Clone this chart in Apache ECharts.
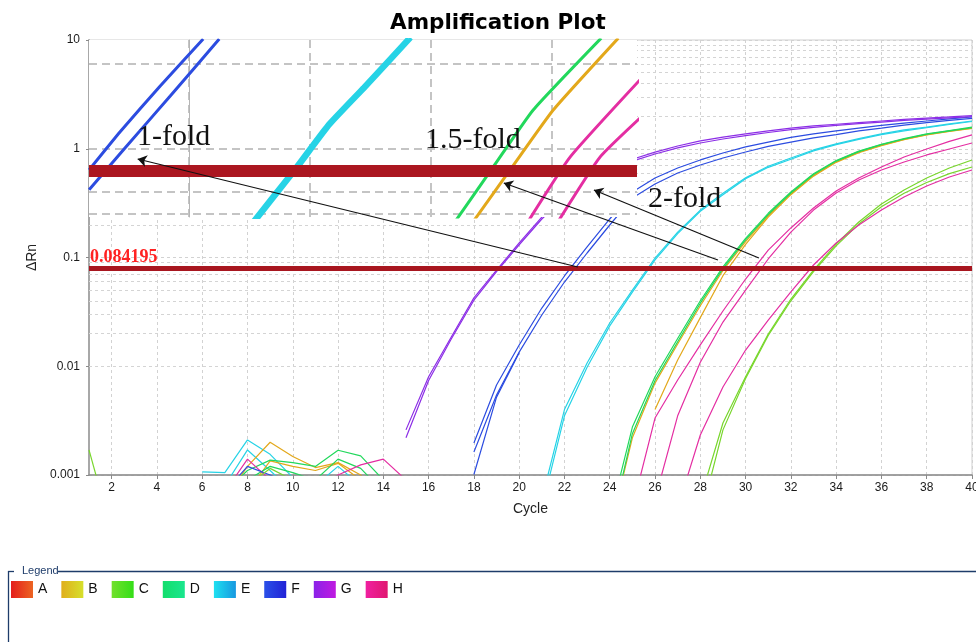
<!DOCTYPE html>
<html><head><meta charset="utf-8">
<script src="https://cdn.jsdelivr.net/npm/echarts@6/dist/echarts.min.js"></script>
<style>html,body{margin:0;padding:0;background:#fff}#c{width:976px;height:642px}</style>
</head><body><div id="c"></div>
<script>
// ---------- axes / reference values ----------
const xTicks = [2,4,6,8,10,12,14,16,18,20,22,24,26,28,30,32,34,36,38,40];
const yTickLabels = ['0.001','0.01','0.1','1','10'];
const yMinorGrid = [0.002,0.003,0.004,0.005,0.006,0.007,0.008,0.009,0.02,0.03,0.04,0.05,0.06,0.07,0.08,0.09,0.2,0.3,0.4,0.5,0.6,0.7,0.8,0.9,2,3,4,5,6,7,8,9];
const threshold = 0.084195;
const legendNames = ['A','B','C','D','E','F','G','H'];

// ---------- amplification curves (ΔRn per cycle, from start cycle) ----------
const C0 = [0.0017, 0.0003];                                   // start 1
const C1 = [0.0006,0.00301,0.0080,0.0198,0.0415,0.0767,0.133,0.212,0.310,0.418,0.538,0.665,0.789]; // start 28
const C2 = [0.0004,0.0026,0.0077,0.0192,0.040,0.074,0.128,0.203,0.293,0.39,0.49,0.59,0.68];        // start 28
const B1 = [0.0003,0.0022,0.0070,0.0160,0.036,0.076,0.140,0.242,0.385,0.570,0.760,0.930,1.08,1.22,1.35,1.45,1.55]; // start 24
const B2 = [0.0040,0.0114,0.028,0.068,0.132,0.235,0.378,0.560,0.750,0.920,1.07,1.21,1.34,1.44,1.54]; // start 26
const D1 = [0.0004,0.00276,0.0080,0.0180,0.040,0.082,0.150,0.255,0.400,0.590,0.780,0.950,1.10,1.24,1.37,1.47,1.58]; // start 24
const D2 = [0.0003,0.0024,0.0074,0.0168,0.038,0.079,0.145,0.248,0.392,0.580,0.770,0.940,1.09,1.23,1.36,1.46,1.56]; // start 24
const E1 = [0.0006,0.0040,0.0107,0.0250,0.0502,0.0989,0.171,0.273,0.39,0.54,0.69,0.822,0.975,1.11,1.24,1.37,1.49,1.58,1.69,1.80]; // start 21
const E2 = [0.0005,0.0035,0.0098,0.0235,0.048,0.095,0.166,0.266,0.378,0.53,0.675,0.80,0.955,1.09,1.22,1.35,1.46,1.56,1.67,1.78]; // start 21
const F1 = [0.00197,0.00673,0.0157,0.0343,0.0676,0.125,0.226,0.400,0.538,0.665,0.789,0.914,1.04,1.15,1.27,1.37,1.46,1.55,1.64,1.72,1.80,1.88,1.96]; // start 18
const F2 = [0.00163,0.00544,0.0135,0.0296,0.0595,0.110,0.199,0.352,0.474,0.598,0.709,0.822,0.933,1.05,1.15,1.26,1.35,1.46,1.55,1.65,1.74,1.82,1.90]; // start 18
const F3 = [0.00101,0.0052,0.0133]; // start 18
const G1 = [0.0026,0.0080,0.0186,0.0425,0.0767,0.136,0.235,0.37,0.52,0.66,0.80,0.93,1.06,1.18,1.28,1.37,1.46,1.55,1.62,1.68,1.74,1.80,1.86,1.91,1.96,2.02]; // start 15
const G2 = [0.0022,0.0074,0.0178,0.0405,0.074,0.131,0.226,0.355,0.50,0.635,0.77,0.895,1.02,1.13,1.23,1.32,1.41,1.50,1.57,1.64,1.70,1.76,1.82,1.87,1.92,1.97]; // start 15
const H1 = [0.0005,0.00334,0.00748,0.0157,0.0322,0.0634,0.117,0.187,0.285,0.409,0.538,0.679,0.840,0.995,1.17,1.34]; // start 25
const H2 = [0.0006,0.0035,0.0109,0.0255,0.0502,0.0969,0.171,0.273,0.392,0.516,0.638,0.755,0.877,0.995,1.13]; // start 26
const H3 = [0.0005,0.00233,0.00644,0.0141,0.0266,0.0482,0.0853,0.136,0.199,0.273,0.360,0.454,0.550,0.638]; // start 27

// ---------- baseline noise ----------
const nE1 = [0.00107,0.00105,0.0021,0.00155,0.00095]; // start 6
const nE2 = [0.0008,0.0017,0.0011,0.0007];             // start 7
const nE3 = [0.0008,0.0012,0.0008];                    // start 11
const nB1 = [0.0006,0.0012,0.0020,0.00148,0.00117,0.0013,0.0010,0.0006]; // start 7
const nB2 = [0.0007,0.00135,0.0012,0.0011,0.00128,0.0009];               // start 8
const nD1 = [0.0007,0.0011,0.00137,0.0013,0.0012,0.00169,0.0015,0.0009]; // start 7
const nD2 = [0.0006,0.0009,0.0012,0.00105,0.0009,0.0014,0.00115,0.0007]; // start 7
const nH1 = [0.0007,0.0014,0.0009];                    // start 7
const nH2 = [0.0007,0.0010,0.00124,0.0014,0.0009];     // start 11
const nF1 = [0.0007,0.0012,0.0010,0.0008];             // start 7
const nC1 = [0.0008,0.00115,0.0009];                   // start 8

// ---------- magnified inset (inset units: x, ΔRn) ----------
const insetXGrid = [0,1,2,3];
const insetYGrid = [6,1,0.7,0.4,0.25];
const insetBar = 0.63;
const insetF1 = [[-0.829,0.638],[-0.572,1.43],[-0.240,3.78],[0.116,10.2]];
const insetF2 = [[-0.829,0.418],[-0.530,1.02],[-0.157,3.05],[0.249,10.2]];
const insetE1 = [[0.514,0.207],[0.862,0.638],[1.143,1.65],[1.442,3.70],[1.814,10.4]];
const insetE2 = [[0.540,0.207],[0.888,0.638],[1.169,1.65],[1.468,3.70],[1.840,10.4]];
const insetD  = [[2.195,0.207],[2.519,0.679],[2.850,2.27],[3.413,10.4]];
const insetB  = [[2.345,0.207],[2.676,0.679],[3.016,2.27],[3.555,10.4]];
const insetH1 = [[2.800,0.207],[3.157,0.840],[3.78,4.87]];
const insetH2 = [[3.049,0.207],[3.405,0.840],[3.78,2.13]];

// ---------- annotation arrows (cycle, ΔRn) ----------
const arrowFrom = [[22.59,0.0818],[28.78,0.0948],[30.59,0.099]];
const arrowTo   = [[3.15,0.805],[19.32,0.484],[23.30,0.418]];

// ---------- styles ----------
const colors = {A:'#e8261e',B:'#e3a81b',C:'#78d62c',D:'#22d85c',E:'#26d3e6',F:'#2c4ce0',G:'#8c2ee6',H:'#e42ea2'};
const legendGrad = {A:['#e41e1c','#ec6422'],B:['#e0ae1c','#d6e02c'],C:['#72e02c','#34de18'],D:['#12de6c','#1ae68e'],
  E:['#1ee0f0','#1898e0'],F:['#2a50e8','#2222d6'],G:['#8a22e8','#c01ae0'],H:['#f020a0','#e01870']};

const mainCurves = [
  ['C',1,C0],['C',28,C1],['C',28,C2],['B',24,B1],['B',26,B2],['D',24,D1],['D',24,D2],
  ['E',21,E1],['E',21,E2],['F',18,F1],['F',18,F2],['F',18,F3],['G',15,G1],['G',15,G2],
  ['H',25,H1],['H',26,H2],['H',27,H3],
  ['E',6,nE1],['E',7,nE2],['E',11,nE3],['B',7,nB1],['B',8,nB2],['D',7,nD1],['D',7,nD2],
  ['H',7,nH1],['H',11,nH2],['F',7,nF1],['C',8,nC1]
];
const insetCurves = [
  ['F',insetF1,3],['F',insetF2,3],['E',insetE1,4],['E',insetE2,4],
  ['D',insetD,3],['B',insetB,3],['H',insetH1,3],['H',insetH2,3]
];

const series = [];
series.push({type:'line', data:[], xAxisIndex:0, yAxisIndex:0, silent:true,
  markLine:{z:1, silent:true, symbol:'none', animation:false, label:{show:false},
    lineStyle:{color:'#d4d4d4', type:[3,3], width:1},
    data: yMinorGrid.map(v=>({yAxis:v}))}});
mainCurves.forEach(([n,start,vals])=>{
  series.push({type:'line', name:n, xAxisIndex:0, yAxisIndex:0, z:3, silent:true,
    showSymbol:false, symbol:'none', animation:false,
    lineStyle:{width:1.2, color:colors[n]}, itemStyle:{color:colors[n]},
    data: vals.map((v,i)=>[start+i, v])});
});
series.push({type:'line', name:'A', data:[], itemStyle:{color:colors.A}, lineStyle:{color:colors.A}});
series.push({type:'line', data:[], xAxisIndex:0, yAxisIndex:0, silent:true,
  markLine:{z:5, silent:true, symbol:'none', animation:false,
    lineStyle:{color:'#a8161f', width:5, type:'solid'},
    label:{show:true, position:'insideStartTop', formatter:String(threshold), color:'#ff2222',
      fontFamily:'Liberation Serif', fontWeight:'bold', fontSize:18, distance:[1,2]},
    data:[{yAxis:threshold}]}});
series.push({type:'line', data:[], xAxisIndex:1, yAxisIndex:1, silent:true,
  markLine:{z:11, silent:true, symbol:'none', animation:false, label:{show:false},
    lineStyle:{color:'#c4c4c4', type:[8,5], width:2},
    data: insetXGrid.map(v=>({xAxis:v})).concat(insetYGrid.map(v=>({yAxis:v})))}});
insetCurves.forEach(([n,pts,w])=>{
  series.push({type:'line', name:n, xAxisIndex:1, yAxisIndex:1, z:12, silent:true,
    showSymbol:false, symbol:'none', smooth:0.15, animation:false,
    lineStyle:{width:w, color:colors[n]}, itemStyle:{color:colors[n]}, data:pts});
});
series.push({type:'line', data:[], xAxisIndex:1, yAxisIndex:1, silent:true,
  markLine:{z:13, silent:true, symbol:'none', animation:false, label:{show:false},
    lineStyle:{color:'#ab1620', width:12, type:'solid'}, data:[{yAxis:insetBar}]}});
series.push({type:'line', data:[], xAxisIndex:0, yAxisIndex:0, silent:true,
  markLine:{z:20, silent:true, symbol:['none','arrow'], symbolSize:9, animation:false, label:{show:false},
    lineStyle:{color:'#111', width:1.2, type:'solid'},
    data: arrowFrom.map((f,i)=>[{coord:f},{coord:arrowTo[i]}])}});

const chart = echarts.init(document.getElementById('c'), null, {renderer:'canvas'});
chart.setOption({
  animation:false,
  backgroundColor:'#fff',
  title:{text:'Amplification Plot', left:385, top:7,
    textStyle:{fontFamily:'DejaVu Sans', fontWeight:'bold', fontSize:21.5, color:'#000'}},
  grid:[
    {left:89, top:40, right:4, bottom:167, show:true, containLabel:false, outerBoundsMode:'none',
     backgroundColor:'#fff', borderColor:'#cfcfcf', borderWidth:1},
    {left:89, top:40, width:548, height:177, show:true, containLabel:false, outerBoundsMode:'none',
     backgroundColor:'#fff', borderWidth:0, z:10}
  ],
  xAxis:[
    {type:'value', gridIndex:0, min:1, max:40,
     name:'Cycle', nameLocation:'middle', nameGap:27,
     nameTextStyle:{fontFamily:'Liberation Sans', fontSize:14, color:'#222'},
     axisLine:{show:true, lineStyle:{color:'#8a8a8a', width:1.5}},
     axisTick:{show:true, customValues:xTicks, length:4, lineStyle:{color:'#8a8a8a'}},
     axisLabel:{customValues:xTicks, color:'#1a1a1a', fontSize:12, fontFamily:'Liberation Sans', margin:7},
     splitLine:{show:true, lineStyle:{color:'#d2d2d2', type:[3,3]}}},
    {type:'value', gridIndex:1, min:-0.83, max:3.71, show:false}
  ],
  yAxis:[
    {type:'log', logBase:10, gridIndex:0, min:0.001, max:10,
     name:'ΔRn', nameLocation:'middle', nameGap:48,
     nameTextStyle:{fontFamily:'Liberation Sans', fontSize:14, color:'#222'},
     axisLine:{show:true, lineStyle:{color:'#a8a8a8', width:2}},
     axisTick:{show:true, length:3, lineStyle:{color:'#8a8a8a'}},
     axisLabel:{color:'#1a1a1a', fontSize:12, fontFamily:'Liberation Sans', margin:9,
       formatter:v=>yTickLabels[Math.round(Math.log10(v))+3]},
     splitLine:{show:true, lineStyle:{color:'#d2d2d2', type:[3,3]}},
     minorTick:{show:false}, minorSplitLine:{show:false}},
    {type:'log', logBase:10, gridIndex:1, min:0.235, max:10, z:11,
     axisLine:{show:true, lineStyle:{color:'#b5b5b5', width:1}},
     axisTick:{show:false}, axisLabel:{show:false}, splitLine:{show:false}}
  ],
  legend:{left:11, top:581, itemWidth:22, itemHeight:17, itemGap:14, icon:'rect', selectedMode:false, padding:0,
    textStyle:{fontSize:14, color:'#111', fontFamily:'Liberation Sans'},
    itemStyle:{borderWidth:0},
    data: legendNames.map(n=>({name:n, icon:'rect',
      itemStyle:{borderWidth:0, color:{type:'linear',x:0,y:0,x2:1,y2:0,
        colorStops:[{offset:0,color:legendGrad[n][0]},{offset:1,color:legendGrad[n][1]}]}}}))},
  graphic:[
    {type:'text', left:137, top:122, z:30, silent:true, style:{text:'1-fold', font:'30px "Liberation Serif"', fill:'#111'}},
    {type:'text', left:425, top:125, z:30, silent:true, style:{text:'1.5-fold', font:'30px "Liberation Serif"', fill:'#111'}},
    {type:'text', left:648, top:184, z:30, silent:true, style:{text:'2-fold', font:'30px "Liberation Serif"', fill:'#111'}},
    {type:'line', z:30, silent:true, shape:{x1:8,y1:571.5,x2:14,y2:571.5}, style:{stroke:'#1e3c6a', lineWidth:1.3}},
    {type:'line', z:30, silent:true, shape:{x1:58,y1:571.5,x2:976,y2:571.5}, style:{stroke:'#1e3c6a', lineWidth:1.3}},
    {type:'line', z:30, silent:true, shape:{x1:8.5,y1:571,x2:8.5,y2:642}, style:{stroke:'#1e3c6a', lineWidth:1.3}},
    {type:'text', left:22, top:565, z:30, silent:true, style:{text:'Legend', font:'11px "Liberation Sans"', fill:'#1e3c6a'}}
  ],
  series: series
});
</script></body></html>
